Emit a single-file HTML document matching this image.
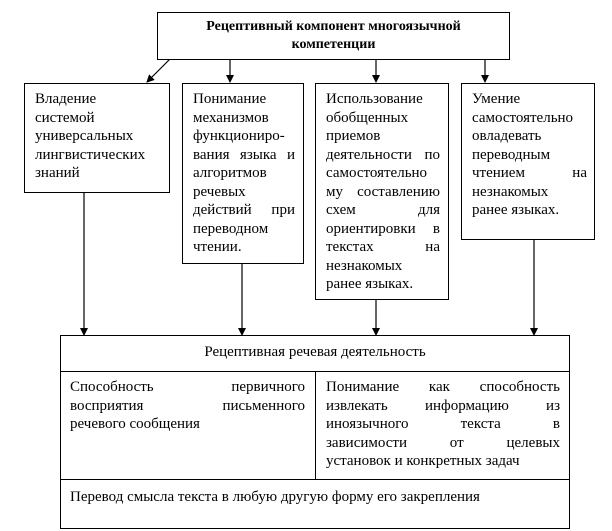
<!DOCTYPE html>
<html><head><meta charset="utf-8"><style>
body{margin:0;width:612px;height:531px;background:#fff;position:relative;overflow:hidden;font-family:"Liberation Serif",serif;font-size:15px;color:#000}
.b{position:absolute;border:1px solid #000;box-sizing:border-box;background:#fff}
.t{position:absolute;line-height:18.5px;white-space:nowrap}
.t div{height:18.5px}
.j{text-align:justify;text-align-last:justify}
svg{position:absolute;left:0;top:0}
</style></head><body>
<svg width="612" height="531">
<defs><marker id="a" markerWidth="8" markerHeight="8" refX="7" refY="4" orient="auto" markerUnits="userSpaceOnUse"><path d="M0,0 L8,4 L0,8 z" fill="#000"/></marker></defs>
<g stroke="#000" stroke-width="1.2" fill="none">
<line x1="170" y1="59" x2="147" y2="82" marker-end="url(#a)"/>
<line x1="230" y1="59" x2="230" y2="82" marker-end="url(#a)"/>
<line x1="376" y1="59" x2="376" y2="82" marker-end="url(#a)"/>
<line x1="485" y1="59" x2="485" y2="82" marker-end="url(#a)"/>
<line x1="84" y1="192" x2="84" y2="335" marker-end="url(#a)"/>
<line x1="242" y1="263" x2="242" y2="335" marker-end="url(#a)"/>
<line x1="376" y1="299" x2="376" y2="335" marker-end="url(#a)"/>
<line x1="534" y1="239" x2="534" y2="335" marker-end="url(#a)"/>
</g></svg>
<div class="b" style="left:157px;top:12px;width:353px;height:48px;text-align:center;font-weight:bold;font-size:14px;line-height:18px;padding-top:5px">Рецептивный компонент многоязычной<br>компетенции</div>
<div class="b" style="left:24px;top:83px;width:146px;height:110px"></div>
<div class="t" style="left:35px;top:90px;width:125px"><div>Владение</div><div>системой</div><div>универсальных</div><div>лингвистических</div><div>знаний</div></div>
<div class="b" style="left:182px;top:83px;width:122px;height:181px"></div>
<div class="t" style="left:193px;top:90px;width:102px"><div>Понимание</div><div>механизмов</div><div>функциониро-</div><div class="j">вания языка и</div><div>алгоритмов</div><div>речевых</div><div class="j">действий при</div><div>переводном</div><div>чтении.</div></div>
<div class="b" style="left:315px;top:83px;width:134px;height:217px"></div>
<div class="t" style="left:326px;top:90px;width:114px"><div>Использование</div><div>обобщенных</div><div>приемов</div><div class="j">деятельности по</div><div>самостоятельно</div><div class="j">му составлению</div><div class="j">схем для</div><div class="j">ориентировки в</div><div class="j">текстах на</div><div>незнакомых</div><div>ранее языках.</div></div>
<div class="b" style="left:461px;top:83px;width:134px;height:157px"></div>
<div class="t" style="left:472px;top:90px;width:115px"><div>Умение</div><div>самостоятельно</div><div>овладевать</div><div>переводным</div><div class="j">чтением на</div><div>незнакомых</div><div>ранее языках.</div></div>
<div class="b" style="left:60px;top:335px;width:510px;height:194px"></div>
<div style="position:absolute;left:60px;top:371px;width:510px;border-top:1px solid #000"></div>
<div style="position:absolute;left:60px;top:479px;width:510px;border-top:1px solid #000"></div>
<div style="position:absolute;left:315px;top:371px;height:108px;border-left:1px solid #000"></div>
<div class="t" style="left:60px;top:343px;width:510px;text-align:center">Рецептивная речевая деятельность</div>
<div class="t" style="left:70px;top:378px;width:235px"><div class="j">Способность первичного</div><div class="j">восприятия письменного</div><div>речевого сообщения</div></div>
<div class="t" style="left:326px;top:378px;width:234px"><div class="j">Понимание как способность</div><div class="j">извлекать информацию из</div><div class="j">иноязычного текста в</div><div class="j">зависимости от целевых</div><div>установок и конкретных задач</div></div>
<div class="t" style="left:70px;top:488px;width:495px">Перевод смысла текста  в любую другую форму его закрепления</div>
</body></html>
